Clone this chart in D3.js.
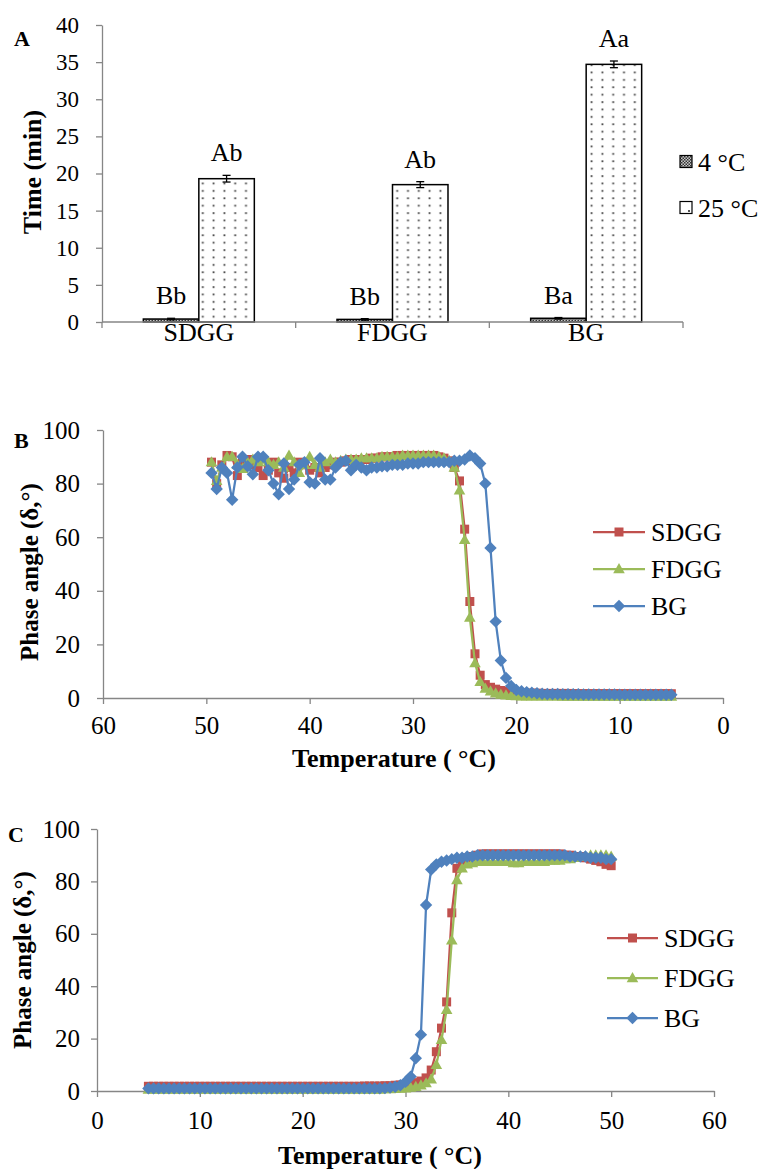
<!DOCTYPE html>
<html><head><meta charset="utf-8">
<script src="https://cdn.jsdelivr.net/npm/d3@7"></script>
<style>
body{margin:0;background:#fff}
text{font-family:"Liberation Serif","Times New Roman",serif;fill:#000}
</style>
</head><body><svg id="c" width="765" height="1169" font-family="Liberation Serif, Times New Roman, serif"></svg>
<script>
// ---------- Panel A data ----------
const categoriesA = ["SDGG", "FDGG", "BG"];
const seriesA = ["4 °C", "25 °C"];
const time4 = [0.4, 0.35, 0.5];
const time25 = [19.3, 18.5, 34.7];
const err4 = [0.1, 0.1, 0.1];
const err25 = [0.45, 0.4, 0.45];
const letters4 = ["Bb", "Bb", "Ba"];
const letters25 = ["Ab", "Ab", "Aa"];
const ticksA = [0, 5, 10, 15, 20, 25, 30, 35, 40];

// ---------- Panel B data (cooling, 49.5 -> 5 °C) ----------
const tempsB = [49.5,49,48.5,48,47.5,47,46.5,46,45.5,45,44.5,44,43.5,43,42.5,42,41.5,41,40.5,40,
39.5,39,38.5,38,37.5,37,36.5,36,35.5,35,34.5,34,33.5,33,32.5,32,31.5,31,30.5,30,
29.5,29,28.5,28,27.5,27,26.5,26,25.5,25,24.5,24,23.5,23,22.5,22,21.5,21,20.5,20,
19.5,19,18.5,18,17.5,17,16.5,16,15.5,15,14.5,14,13.5,13,12.5,12,11.5,11,10.5,10,
9.5,9,8.5,8,7.5,7,6.5,6,5.5,5];
const sdggB = [88,80,87,90.5,90,83,88,89,87,86,83,85,88,84,82,86,84,88,87,85,
86,84,86,87,88,88,88.5,89,89,89,89,89.5,89.5,90,90,90,90.5,90.5,90.5,90.5,
90.5,90.5,90.5,90.5,90,89.5,88.5,86,81,63,36,16.5,8.5,5,4,3.3,2.8,2.5,2.2,2,
1.9,1.8,1.8,1.8,1.7,1.7,1.7,1.7,1.7,1.7,1.6,1.6,1.6,1.6,1.6,1.6,1.6,1.6,1.6,1.6,
1.6,1.6,1.6,1.6,1.6,1.6,1.6,1.6,1.6,1.6];
const fdggB = [88,81,86,90,90,87,85.5,88,89,88,89,88,87,88,86,90.5,88,84,87,90,
87,86,88,89,88,88.5,89,89,89,89.5,89.5,89.5,89.5,90,90,90,90,90.5,90.5,90.5,
90.5,90.5,90.5,90.5,90,89.5,88.5,86,77.5,59,30,13,6,3.5,2.5,1.8,1.3,1,0.8,0.7,
0.6,0.6,0.6,0.6,0.6,0.6,0.6,0.6,0.5,0.5,0.5,0.5,0.5,0.5,0.5,0.5,0.5,0.5,0.5,0.5,
0.5,0.5,0.5,0.5,0.5,0.5,0.5,0.5,0.5,0.5];
const bgB = [84,78,86,84,74,86,90,86.5,83.5,90,90,85,80,76,87.5,78,81.5,87,88,80.5,
80,89.5,81.5,81.5,86,88,88.5,85,87,86,85,86,86,86.5,86.5,87,87,87,87.5,87.5,
87.5,88,88,88,88,88,88,88.5,88.5,89,90.5,89.5,87.5,80,56,28.5,14,7.5,4.5,3,
2.5,2.2,2,1.8,1.6,1.5,1.5,1.5,1.4,1.4,1.4,1.4,1.3,1.3,1.3,1.3,1.3,1.3,1.3,1.2,
1.2,1.2,1.2,1.2,1.2,1.2,1.2,1.2,1.2,1.2];

// ---------- Panel C data (heating, 5 -> 50 °C) ----------
const tempsC = [5,5.5,6,6.5,7,7.5,8,8.5,9,9.5,10,10.5,11,11.5,12,12.5,13,13.5,14,14.5,
15,15.5,16,16.5,17,17.5,18,18.5,19,19.5,20,20.5,21,21.5,22,22.5,23,23.5,24,24.5,
25,25.5,26,26.5,27,27.5,28,28.5,29,29.5,30,30.5,31,31.5,32,32.5,33,33.5,34,34.5,
35,35.5,36,36.5,37,37.5,38,38.5,39,39.5,40,40.5,41,41.5,42,42.5,43,43.5,44,44.5,
45,45.5,46,46.5,47,47.5,48,48.5,49,49.5,50];
const sdggC = [1.8,1.8,1.8,1.8,1.8,1.8,1.8,1.8,1.8,1.8,1.8,1.8,1.8,1.8,1.8,1.8,1.8,1.8,1.8,1.8,
1.8,1.8,1.8,1.8,1.8,1.8,1.8,1.8,1.8,1.8,1.8,1.8,1.8,1.8,1.8,1.8,1.8,1.8,1.8,1.8,
1.8,1.8,1.9,1.9,1.9,1.9,2,2,2.2,2.3,2.5,2.8,3.2,3.8,5,8,15,24,34,68,
85,88,89,89.5,90,90.5,90.5,90.5,90.5,90.5,90.5,90.5,90.5,90.5,90.5,90.5,90.5,90.5,90.5,90.5,
90.5,90,90,89.5,89.5,89,88.5,88,87.5,86.5,86];
const fdggC = [0.6,0.6,0.6,0.6,0.6,0.6,0.6,0.6,0.6,0.6,0.6,0.6,0.6,0.6,0.6,0.6,0.6,0.6,0.6,0.6,
0.6,0.6,0.6,0.6,0.6,0.6,0.6,0.6,0.6,0.6,0.6,0.6,0.6,0.6,0.6,0.6,0.6,0.6,0.6,0.6,
0.6,0.6,0.6,0.6,0.6,0.6,0.7,0.7,0.8,0.9,1,1.3,1.6,2.2,3,4.5,10,19.5,31,57.5,
80.5,85,86.5,87,87.5,87.5,87.5,87.5,87.5,87.5,87.5,87,87,87.5,87.5,87.5,87.5,87.5,88,88,
88,88.5,88.5,89,89.5,89.5,90,90,90,90,89.5];
const bgC = [1,1,1,1,1,1,1,1,1,1,1,1,1,1,1,1,1,1,1,1,
1,1,1,1,1,1,1,1,1,1,1,1,1,1,1,1,1,1,1,1,
1,1,1,1,1,1,1.1,1.3,1.6,2.2,3.5,5.5,12.5,21.5,71,84.5,86.5,87.5,88,88.5,
89,89,89.5,89.5,90,90,90,90,90,90,90,90,90,90,90,90,90,90,90,90,
90,90,89.5,89.5,89.5,89.5,89,89,89,88.5,88.5];

const seriesNames = ["SDGG", "FDGG", "BG"];
const seriesColors = ["#C0504D", "#9BBB59", "#4F81BD"];
const ticksPhase = [0, 20, 40, 60, 80, 100];
const ticksTempB = [60, 50, 40, 30, 20, 10, 0];
const ticksTempC = [0, 10, 20, 30, 40, 50, 60];

// ---------- drawing ----------
const svg = d3.select("#c");
const AX = "#868686";
const FONT = '"Liberation Serif","Times New Roman",serif';
const defs = svg.append("defs");
const p4 = defs.append("pattern").attr("id", "p4").attr("patternUnits", "userSpaceOnUse")
  .attr("width", 3).attr("height", 3);
p4.append("rect").attr("width", 3).attr("height", 3).attr("fill", "#c8c8c8");
p4.append("rect").attr("width", 1.5).attr("height", 1.5).attr("fill", "#333");
p4.append("rect").attr("x", 1.5).attr("y", 1.5).attr("width", 1.5).attr("height", 1.5).attr("fill", "#333");
const p25 = defs.append("pattern").attr("id", "p25").attr("patternUnits", "userSpaceOnUse")
  .attr("width", 10.8).attr("height", 7.4).attr("x", 3).attr("y", 2);
p25.append("rect").attr("width", 10.8).attr("height", 7.4).attr("fill", "#fff");
p25.append("rect").attr("x", 4.5).attr("y", 3).attr("width", 1.8).attr("height", 1.8).attr("fill", "#444");

function styleAxis(g, fs) {
  g.attr("font-family", FONT);
  g.select(".domain").attr("stroke", AX).attr("stroke-width", 1.3);
  g.selectAll(".tick line").attr("stroke", AX).attr("stroke-width", 1.3);
  g.selectAll(".tick text").attr("font-size", fs).attr("fill", "#000");
}

// ===== Panel A =====
const xA = d3.scaleBand().domain(categoriesA).range([102, 683]);
const xIn = d3.scaleBand().domain(seriesA).range([0, xA.bandwidth()]).paddingInner(0).paddingOuter(0.745);
const yA = d3.scaleLinear().domain([0, 40]).range([322, 25]);

const gyA = svg.append("g").attr("transform", "translate(102,0)")
  .call(d3.axisLeft(yA).tickValues(ticksA).tickSize(6).tickSizeOuter(0).tickPadding(17));
styleAxis(gyA, 23);

const gA = svg.append("g");
const barsData = categoriesA.map((c, i) => ({c, vals: [
  {s: seriesA[0], v: time4[i], e: err4[i], lab: letters4[i], fill: "url(#p4)"},
  {s: seriesA[1], v: time25[i], e: err25[i], lab: letters25[i], fill: "url(#p25)"}]}));
barsData.forEach(cat => {
  cat.vals.forEach(b => {
    const x0 = xA(cat.c) + xIn(b.s), w = xIn.bandwidth();
    gA.append("rect").attr("x", x0).attr("y", yA(b.v)).attr("width", w)
      .attr("height", yA(0) - yA(b.v)).attr("fill", b.fill).attr("stroke", "#000").attr("stroke-width", 1.5);
    const cx = x0 + w / 2;
    gA.append("line").attr("x1", cx).attr("x2", cx).attr("y1", yA(b.v - b.e)).attr("y2", yA(b.v + b.e))
      .attr("stroke", "#000").attr("stroke-width", 1.3);
    [b.v - b.e, b.v + b.e].forEach(v => gA.append("line").attr("x1", cx - 4).attr("x2", cx + 4)
      .attr("y1", yA(v)).attr("y2", yA(v)).attr("stroke", "#000").attr("stroke-width", 1.3));
    gA.append("text").attr("x", cx).attr("y", yA(b.v + b.e) - 14).attr("text-anchor", "middle")
      .attr("font-size", 26).text(b.lab);
  });
});
// x axis A
svg.append("line").attr("x1", 102).attr("x2", 683).attr("y1", 322).attr("y2", 322)
  .attr("stroke", AX).attr("stroke-width", 1.3);
[0, 1, 2, 3].forEach(i => {
  const x = xA.range()[0] + i * xA.step();
  svg.append("line").attr("x1", x).attr("x2", x).attr("y1", 322).attr("y2", 328)
    .attr("stroke", AX).attr("stroke-width", 1.3);
});
categoriesA.forEach(c => svg.append("text").attr("x", xA(c) + xA.bandwidth() / 2).attr("y", 341)
  .attr("text-anchor", "middle").attr("font-size", 26).text(c));
// legend A
seriesA.forEach((s, i) => {
  const y = 162 + i * 46;
  svg.append("rect").attr("x", 680).attr("y", y - 6.5).attr("width", 12).attr("height", 12)
    .attr("fill", i === 0 ? "url(#p4)" : "#fff").attr("stroke", "#000").attr("stroke-width", 1.2);
  if (i === 1) svg.append("rect").attr("x", 688).attr("y", y + 2).attr("width", 2).attr("height", 2).attr("fill", "#555");
  svg.append("text").attr("x", 698).attr("y", y + 8.5).attr("font-size", 26).text(s);
});
svg.append("text").attr("transform", "translate(41,172) rotate(-90)").attr("text-anchor", "middle")
  .attr("font-size", 26).attr("font-weight", "bold").text("Time (min)");
svg.append("text").attr("x", 14).attr("y", 46).attr("font-size", 22).attr("font-weight", "bold").text("A");

// ===== helpers for line panels =====
const markerPaths = [
  "M-4.5,-4.5L4.5,-4.5L4.5,4.5L-4.5,4.5Z",
  "M0,-6L5.8,4.2L-5.8,4.2Z",
  "M0,-6.2L6.2,0L0,6.2L-6.2,0Z"
];
function drawSeries(g, temps, vals, x, y, k) {
  const line = d3.line().x((d, i) => x(temps[i])).y(d => y(d));
  g.append("path").datum(vals).attr("d", line).attr("fill", "none")
    .attr("stroke", seriesColors[k]).attr("stroke-width", 2.25);
  g.append("g").selectAll("path").data(vals).join("path")
    .attr("transform", (d, i) => `translate(${x(temps[i])},${y(d)})`)
    .attr("d", markerPaths[k]).attr("fill", seriesColors[k]);
}
function drawLegend(g, x0, x1, tx, ys) {
  seriesNames.forEach((n, k) => {
    g.append("line").attr("x1", x0).attr("x2", x1).attr("y1", ys[k]).attr("y2", ys[k])
      .attr("stroke", seriesColors[k]).attr("stroke-width", 2.25);
    g.append("path").attr("transform", `translate(${(x0 + x1) / 2},${ys[k]})`)
      .attr("d", markerPaths[k]).attr("fill", seriesColors[k]);
    g.append("text").attr("x", tx).attr("y", ys[k] + 9).attr("font-size", 26).text(n);
  });
}

// ===== Panel B =====
const xB = d3.scaleLinear().domain([60, 0]).range([103, 723]);
const yB = d3.scaleLinear().domain([0, 100]).range([698, 430]);
const gB = svg.append("g");
const gyB = gB.append("g").attr("transform", "translate(103,0)")
  .call(d3.axisLeft(yB).tickValues(ticksPhase).tickSize(6).tickSizeOuter(0).tickPadding(17));
styleAxis(gyB, 25);
const gxB = gB.append("g").attr("transform", "translate(0,698)")
  .call(d3.axisBottom(xB).tickValues(ticksTempB).tickSize(6).tickSizeOuter(0));
styleAxis(gxB, 25);
gxB.selectAll(".tick text").attr("dy", null).attr("y", 36);
[sdggB, fdggB, bgB].forEach((v, k) => drawSeries(gB, tempsB, v, xB, yB, k));
drawLegend(gB, 593, 645, 651, [532, 569, 606]);
gB.append("text").attr("x", 394).attr("y", 767).attr("text-anchor", "middle")
  .attr("font-size", 26).attr("font-weight", "bold").text("Temperature ( °C)");
gB.append("text").attr("transform", "translate(38,572) rotate(-90)").attr("text-anchor", "middle")
  .attr("font-size", 25).attr("font-weight", "bold").text("Phase angle (δ,°)");
gB.append("text").attr("x", 14).attr("y", 448).attr("font-size", 22).attr("font-weight", "bold").text("B");

// ===== Panel C =====
const xC = d3.scaleLinear().domain([0, 60]).range([97, 714]);
const yC = d3.scaleLinear().domain([0, 100]).range([1091, 829]);
const gC = svg.append("g");
const gyC = gC.append("g").attr("transform", "translate(97,0)")
  .call(d3.axisLeft(yC).tickValues(ticksPhase).tickSize(6).tickSizeOuter(0).tickPadding(11));
styleAxis(gyC, 25);
const gxC = gC.append("g").attr("transform", "translate(0,1091)")
  .call(d3.axisBottom(xC).tickValues(ticksTempC).tickSize(6).tickSizeOuter(0));
styleAxis(gxC, 25);
gxC.selectAll(".tick text").attr("dy", null).attr("y", 38);
[sdggC, fdggC, bgC].forEach((v, k) => drawSeries(gC, tempsC, v, xC, yC, k));
drawLegend(gC, 607, 658, 664, [938, 978, 1018]);
gC.append("text").attr("x", 380).attr("y", 1164).attr("text-anchor", "middle")
  .attr("font-size", 26).attr("font-weight", "bold").text("Temperature ( °C)");
gC.append("text").attr("transform", "translate(31,960) rotate(-90)").attr("text-anchor", "middle")
  .attr("font-size", 25).attr("font-weight", "bold").text("Phase angle (δ,°)");
gC.append("text").attr("x", 8).attr("y", 842).attr("font-size", 22).attr("font-weight", "bold").text("C");
</script>
</body></html>
